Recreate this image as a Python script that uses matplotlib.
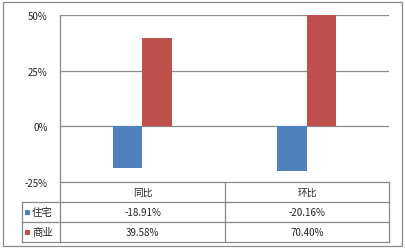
import matplotlib
matplotlib.use("Agg")
import matplotlib.pyplot as plt
from matplotlib.patches import Rectangle
from matplotlib.lines import Line2D
import numpy as np

plt.rcParams['font.family'] = ['Noto Sans CJK SC', 'DejaVu Sans']

categories = ['同比', '环比']
series_names = ['住宅', '商业']
residential = [-18.91, -20.16]
commercial = [39.58, 70.40]
yticks = [-25, 0, 25, 50]
ytick_labels = ['-25%', '0%', '25%', '50%']
colors = ['#4F81BD', '#C0504D']

W, H = 406, 253
fig = plt.figure(figsize=(W / 100, H / 100), dpi=100)

def fx(px):
    return px / W

def fy(py):
    return 1 - py / H

ax_l, ax_r, ax_t, ax_b = 60, 389, 16, 183
ax = fig.add_axes([fx(ax_l), fy(ax_b), fx(ax_r - ax_l), fy(ax_t) - fy(ax_b)])

x = np.arange(len(categories))
bw = 0.18
ax.bar(x - bw / 2, residential, bw, color=colors[0], zorder=3)
ax.bar(x + bw / 2, commercial, bw, color=colors[1], zorder=3)
ax.set_xlim(-0.5, len(categories) - 0.5)
ax.set_ylim(-25, 50)
ax.set_yticks(yticks)
ax.set_yticklabels(ytick_labels, fontsize=7, color='#222222')
ax.set_xticks([])
ax.tick_params(axis='y', length=0, pad=9)
for y in [0, 25, 50]:
    ax.axhline(y, color='#8c8c8c', lw=0.9, zorder=1)
for s in ['top', 'right', 'bottom']:
    ax.spines[s].set_visible(False)
ax.spines['left'].set_color('#888888')
ax.spines['left'].set_linewidth(0.9)

# table
gc = '#888888'
col_x = [22, 60, 225, 389]

def hline(y, x0, x1):
    fig.add_artist(Line2D([fx(x0), fx(x1)], [fy(y), fy(y)], color=gc, lw=0.9))

def vline(x0, y0, y1):
    fig.add_artist(Line2D([fx(x0), fx(x0)], [fy(y0), fy(y1)], color=gc, lw=0.9))

hline(183, 60, 389)
hline(203, 22, 389)
hline(223, 22, 389)
hline(243, 22, 389)
vline(22, 203, 243)
vline(60, 183, 243)
vline(225, 183, 243)
vline(389, 183, 243)

tfs = 7
for i, c in enumerate(categories):
    cx = (col_x[i + 1] + col_x[i + 2]) / 2
    fig.text(fx(cx), fy(193), c, ha='center', va='center', fontsize=tfs, color='#222222')
    fig.text(fx(cx), fy(213), f"{residential[i]:.2f}%", ha='center', va='center', fontsize=tfs, color='#222222')
    fig.text(fx(cx), fy(233), f"{commercial[i]:.2f}%", ha='center', va='center', fontsize=tfs, color='#222222')

for j, (name, col) in enumerate(zip(series_names, colors)):
    yc = 213 + 20 * j
    fig.add_artist(Rectangle((fx(25), fy(yc + 2.5)), fx(5), fy(yc - 2.5) - fy(yc + 2.5),
                             facecolor=col, edgecolor='none'))
    fig.text(fx(32), fy(yc), name, ha='left', va='center', fontsize=tfs + 0.5, color='#222222')

# outer border
fig.add_artist(Rectangle((fx(3), fy(247)), fx(399), fy(3) - fy(247), fill=False,
                         edgecolor='#8a8a8a', lw=0.9))

fig.savefig('out.png', dpi=100)
